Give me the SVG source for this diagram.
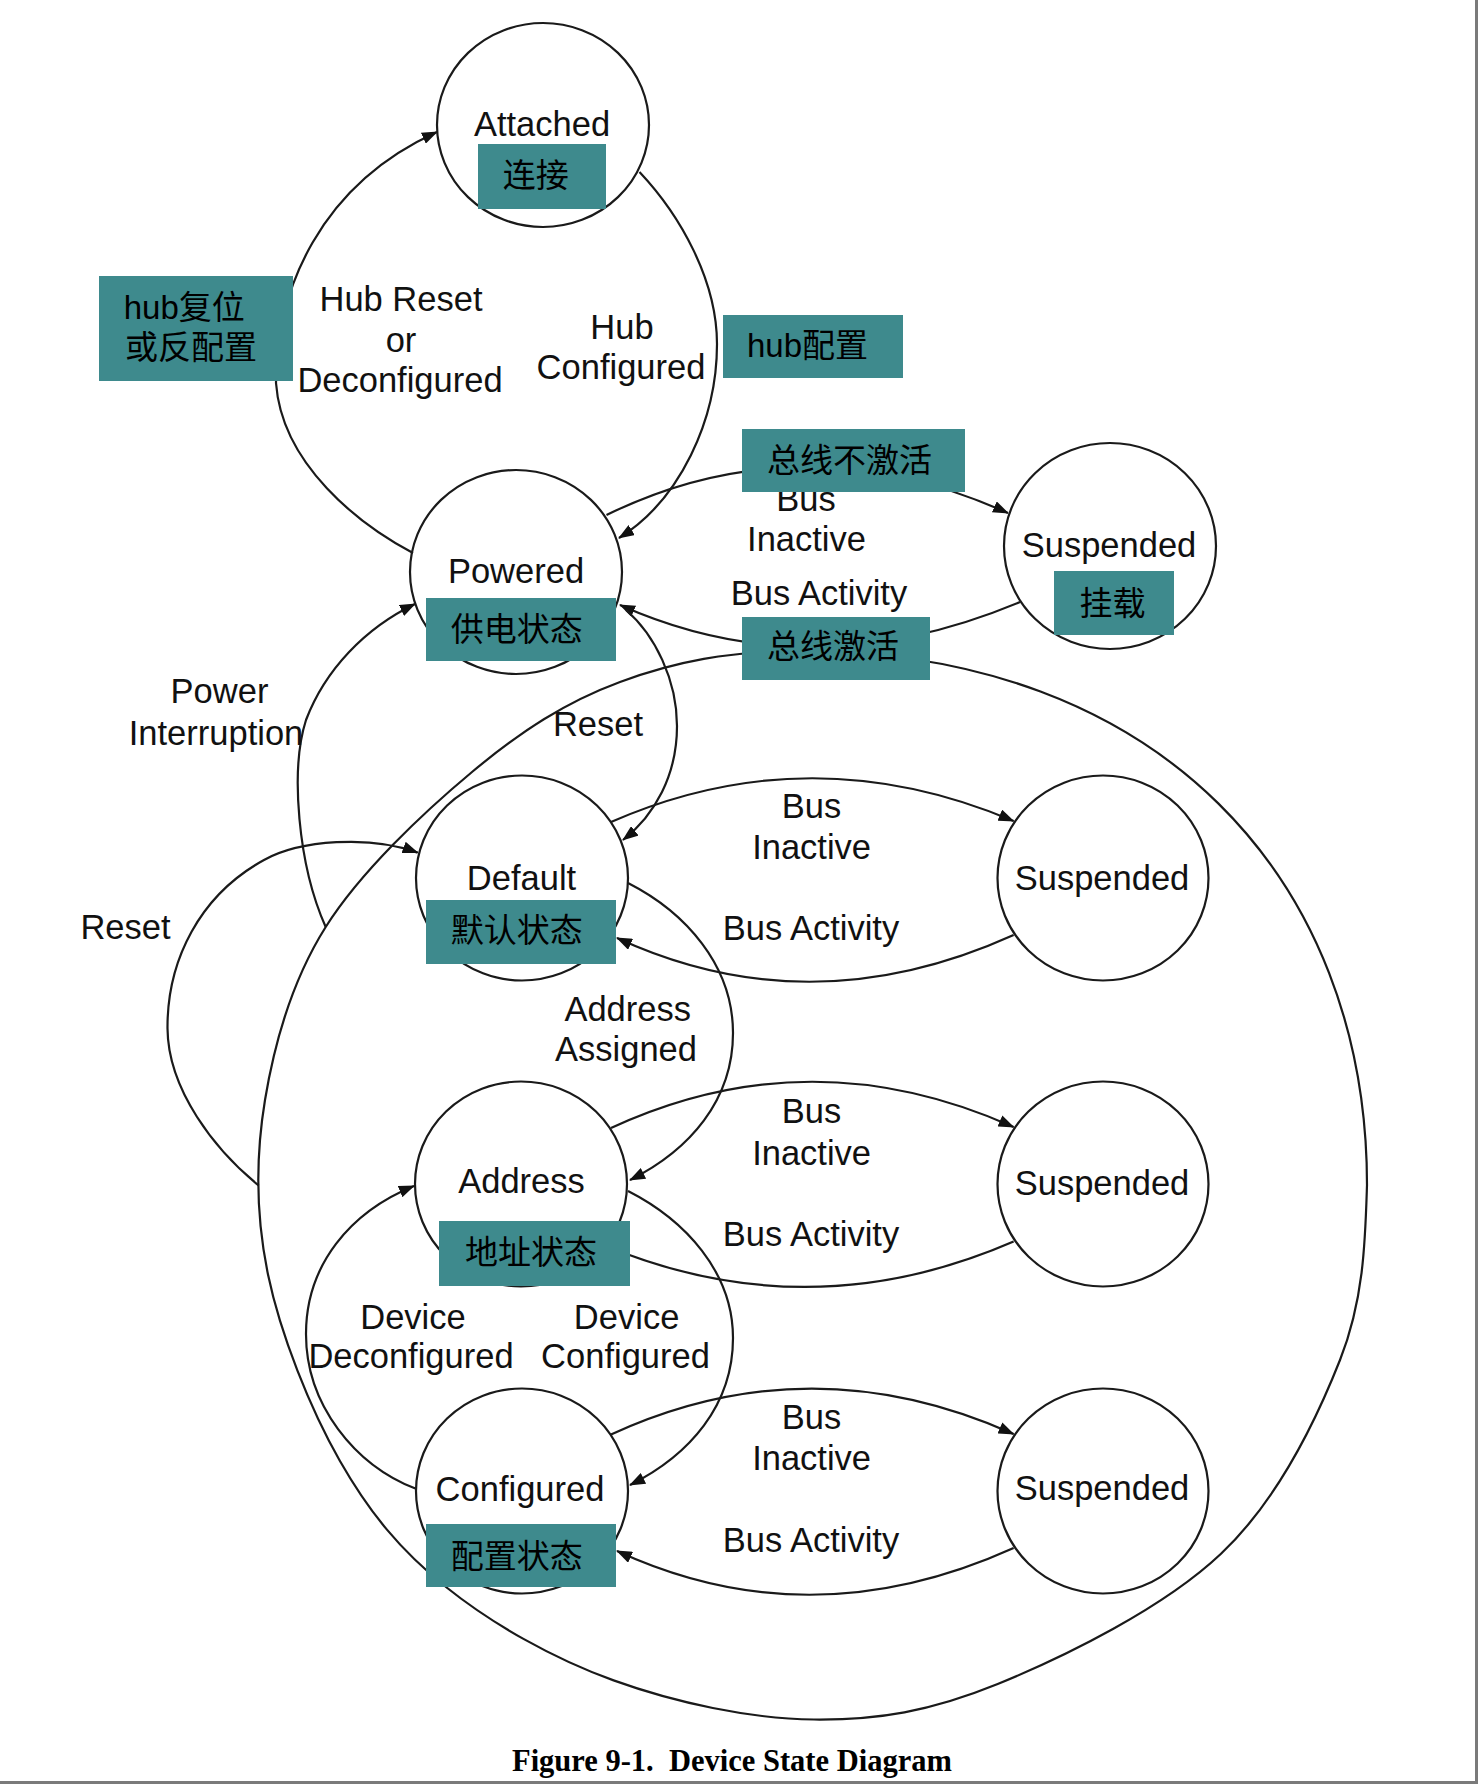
<svg xmlns="http://www.w3.org/2000/svg" width="1478" height="1784" viewBox="0 0 1478 1784">
<style>
.st{fill:none;stroke:#1a1a1a;stroke-width:2.2}
.nd{fill:none;stroke:#1a1a1a;stroke-width:2.2}
.lbl{font-family:"Liberation Sans",Arial,sans-serif;font-size:34.5px;fill:#111;text-anchor:middle}
.cn{font-family:"Liberation Sans","Noto Sans CJK SC",sans-serif;font-size:33px;fill:#000}
.box{fill:#3E8A8D}
.cap{font-family:"Liberation Serif","Times New Roman",serif;font-weight:bold;font-size:30.5px;fill:#000;white-space:pre}
</style>
<defs>
<marker id="ah" viewBox="0 0 16 12" refX="15" refY="6" markerWidth="16" markerHeight="12" markerUnits="userSpaceOnUse" orient="auto">
<path d="M0,0 L16,6 L0,12 Z" fill="#111"/>
</marker>
</defs>
<rect x="0" y="0" width="1478" height="1784" fill="#fff"/>
<rect x="1475" y="0" width="3" height="1784" fill="#7a7a7a"/>
<rect x="0" y="1781" width="1478" height="3" fill="#7a7a7a"/>

<g id="enclosure">
<path class="st" d="M800,651 C1160,651 1367,880 1367,1185 C1365.3,1238.3 1364.3,1298.5 1340,1360 C1315.7,1421.5 1278.05,1499.8 1221,1553.8 C1163.95,1607.8 1065.5,1656.4 997.7,1684 C929.9,1711.6 878,1720.1 814,1719.5 C750,1718.9 674.9,1702.5 613.6,1680.4 C552.3,1658.3 491.6,1623.6 446,1587 C400.4,1550.4 369.5,1512.8 339.8,1460.7 C310.1,1408.6 280.5,1334.6 268,1274.5 C255.5,1214.4 255.4,1157.9 265,1100 C274.6,1042.1 291.2,981.7 325.7,927 C360.2,872.3 423,812.8 472,772 C521,731.2 565.3,702.2 620,682 C674.7,661.8 728.8,651 800,651 Z"/>
</g>

<g id="connectors">
<path class="st" marker-end="url(#ah)" d="M413,553 C360,525 282,465 276,383 C276,290 320,185 437,132"/>
<path class="st" marker-end="url(#ah)" d="M639.5,172 C680,215 717,280 717,344 C717,420 680,500 619,538"/>
<path class="st" marker-end="url(#ah)" d="M606.5,515 Q800,420 1008,513"/>
<path class="st" marker-end="url(#ah)" d="M1020,602 Q810,690 620,605"/>
<path class="st" marker-end="url(#ah)" d="M626,610 C655,635 677,680 677,726 C677,775 655,815 623,840"/>
<path class="st" marker-end="url(#ah)" d="M325.7,927 C298,865 290,770 306,720 C325,670 365,628 415,604"/>
<path class="st" marker-end="url(#ah)" d="M258.7,1185.5 C215,1150 168,1090 167.5,1028.6 C167,960 200,895 264,860 C300,840 370,835 417.7,852.6"/>
<path class="st" marker-end="url(#ah)" d="M628,883 C685,912 733,965 733,1033 C733,1100 690,1150 630,1180"/>
<path class="st" marker-end="url(#ah)" d="M628,1191 C685,1220 733,1272 733,1338 C733,1405 690,1455 630,1485"/>
<path class="st" marker-end="url(#ah)" d="M415.4,1488.6 C355,1465 306,1405 306,1334 C306,1265 350,1212 414,1186"/>
<path class="st" marker-end="url(#ah)" d="M611,822 Q810,735 1013.6,821"/>
<path class="st" marker-end="url(#ah)" d="M1013.6,935 Q810,1027 617,938"/>
<path class="st" marker-end="url(#ah)" d="M611,1128 Q810,1036 1013.6,1127"/>
<path class="st" marker-end="url(#ah)" d="M1013.6,1241.6 Q810,1330 606,1246"/>
<path class="st" marker-end="url(#ah)" d="M611,1434.6 Q810,1343 1013.6,1434"/>
<path class="st" marker-end="url(#ah)" d="M1013.6,1548 Q810,1640 617,1551"/>
</g>

<g id="edge-labels">
<text class="lbl" x="401" y="310.5">Hub Reset</text>
<text class="lbl" x="401" y="352">or</text>
<text class="lbl" x="400" y="392">Deconfigured</text>
<text class="lbl" x="622" y="339">Hub</text>
<text class="lbl" x="621" y="379">Configured</text>
<text class="lbl" x="806" y="511">Bus</text>
<text class="lbl" x="806.5" y="551">Inactive</text>
<text class="lbl" x="819" y="605">Bus Activity</text>
<text class="lbl" x="219.5" y="702.6">Power</text>
<text class="lbl" x="216" y="744.7">Interruption</text>
<text class="lbl" x="598" y="736">Reset</text>
<text class="lbl" x="125.5" y="939">Reset</text>
<text class="lbl" x="811.6" y="818">Bus</text>
<text class="lbl" x="811.6" y="859">Inactive</text>
<text class="lbl" x="811" y="939.5">Bus Activity</text>
<text class="lbl" x="627.7" y="1021">Address</text>
<text class="lbl" x="626" y="1061">Assigned</text>
<text class="lbl" x="811.6" y="1122.5">Bus</text>
<text class="lbl" x="811.6" y="1164.5">Inactive</text>
<text class="lbl" x="811" y="1245.5">Bus Activity</text>
<text class="lbl" x="413" y="1328.5">Device</text>
<text class="lbl" x="411" y="1368">Deconfigured</text>
<text class="lbl" x="626.6" y="1328.5">Device</text>
<text class="lbl" x="625.5" y="1368">Configured</text>
<text class="lbl" x="811.6" y="1429">Bus</text>
<text class="lbl" x="811.6" y="1470">Inactive</text>
<text class="lbl" x="811" y="1552">Bus Activity</text>
</g>

<g id="edge-notes">
<rect class="box" x="99" y="276" width="194" height="105"/>
<text class="cn" x="123.7" y="318.5">hub复位</text>
<text class="cn" x="125" y="358.7">或反配置</text>
<rect class="box" x="723" y="315" width="180" height="63"/>
<text class="cn" x="747" y="356.7">hub配置</text>
<rect class="box" x="742" y="429" width="223" height="63"/>
<text class="cn" x="767" y="471.5">总线不激活</text>
<rect class="box" x="742" y="617" width="188" height="63"/>
<text class="cn" x="767" y="658">总线激活</text>
</g>

<g id="attached">
<ellipse class="nd" cx="543" cy="125" rx="106" ry="102"/>
<text class="lbl" x="542" y="136">Attached</text>
<rect class="box" x="478" y="144" width="128" height="65"/>
<text class="cn" x="502.7" y="186.5">连接</text>
</g>

<g id="powered">
<ellipse class="nd" cx="516" cy="572" rx="106" ry="102"/>
<text class="lbl" x="516" y="583">Powered</text>
<rect class="box" x="426" y="598" width="190" height="63"/>
<text class="cn" x="450.7" y="641">供电状态</text>
</g>

<g id="suspended-powered">
<ellipse class="nd" cx="1110" cy="546" rx="106" ry="103"/>
<text class="lbl" x="1109" y="557">Suspended</text>
<rect class="box" x="1054" y="571" width="120" height="64"/>
<text class="cn" x="1079.6" y="615">挂载</text>
</g>

<g id="default">
<ellipse class="nd" cx="522" cy="878" rx="106" ry="102.5"/>
<text class="lbl" x="521.5" y="890">Default</text>
<rect class="box" x="426" y="900" width="190" height="64"/>
<text class="cn" x="450.7" y="941.5">默认状态</text>
</g>

<g id="suspended-default">
<ellipse class="nd" cx="1103" cy="878" rx="105.5" ry="102.5"/>
<text class="lbl" x="1102" y="890">Suspended</text>
</g>

<g id="address">
<ellipse class="nd" cx="521" cy="1184" rx="106" ry="102.5"/>
<text class="lbl" x="521.5" y="1193">Address</text>
<rect class="box" x="439" y="1221" width="191" height="65"/>
<text class="cn" x="465" y="1264">地址状态</text>
</g>

<g id="suspended-address">
<ellipse class="nd" cx="1103" cy="1184" rx="105.5" ry="102.5"/>
<text class="lbl" x="1102" y="1195">Suspended</text>
</g>

<g id="configured">
<ellipse class="nd" cx="522" cy="1491" rx="106" ry="102.5"/>
<text class="lbl" x="520" y="1501">Configured</text>
<rect class="box" x="426" y="1524" width="190" height="63"/>
<text class="cn" x="450.7" y="1567.5">配置状态</text>
</g>

<g id="suspended-configured">
<ellipse class="nd" cx="1103" cy="1491" rx="105.5" ry="102.5"/>
<text class="lbl" x="1102" y="1500">Suspended</text>
</g>

<text class="cap" x="512" y="1771">Figure 9-1.  Device State Diagram</text>
</svg>
